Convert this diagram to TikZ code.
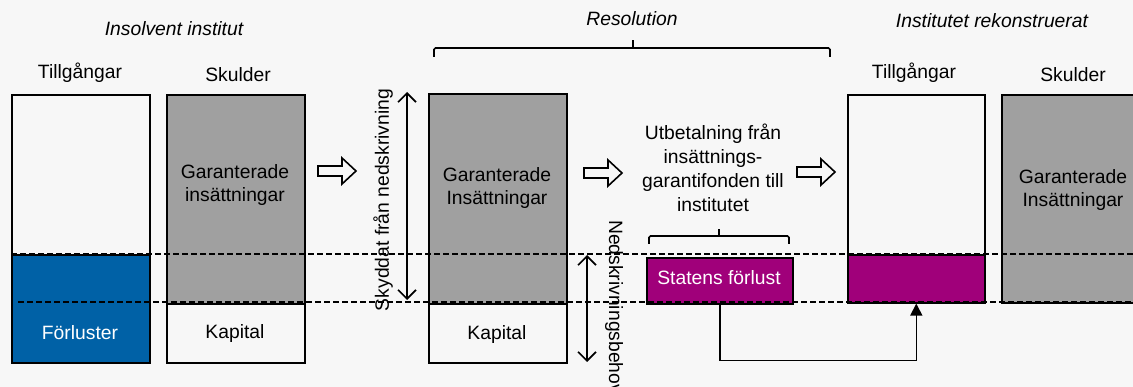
\documentclass[tikz,border=0pt]{standalone}
\usepackage{fontspec}
\setmainfont{Liberation Sans}
\usetikzlibrary{arrows.meta}
\definecolor{bg}{HTML}{F7F7F7}
\definecolor{depgray}{HTML}{A0A0A0}
\definecolor{lossblue}{HTML}{0061A6}
\definecolor{statepurple}{HTML}{A0007A}
\begin{document}
\begin{tikzpicture}[x=1pt,y=-1pt,
  every node/.style={font=\fontsize{19.3}{23.8}\selectfont, inner sep=0pt, align=center},
  block/.style={draw, line width=1.6pt, anchor=north west, minimum width=138pt},
  title/.style={font=\fontsize{19.3}{23.8}\selectfont\itshape, anchor=base},
  dashline/.style={dashed, dash pattern=on 6pt off 3pt, line width=1.5pt},
  bracket/.style={line width=1.6pt, rounded corners=1.5pt},
  dblarrow/.style={line width=1.6pt, {Straight Barb[length=9pt,width=18pt,line width=1.6pt]}-{Straight Barb[length=9pt,width=18pt,line width=1.6pt]}},
  hollowarrow/.pic={\draw[line width=1.6pt, fill=bg, line join=miter]
      (0,-5) -- (24,-5) -- (24,-13) -- (38,0) -- (24,13) -- (24,5) -- (0,5) -- cycle;}
]
% canvas
\fill[bg] (0,0) rectangle (1133,387);
\useasboundingbox (0,0) rectangle (1133,387);

% titles
\node[title] (tInsolv) at (174,36) {Insolvent institut};
\node[title] (tResol) at (632,26) {Resolution};
\node[title] (tRekon) at (992,28) {Institutet rekonstruerat};

% column headings
\node[anchor=base] (hA1) at (80,79) {Tillgångar};
\node[anchor=base] (hL1) at (238,82) {Skulder};
\node[anchor=base] (hA2) at (914,79) {Tillgångar};
\node[anchor=base] (hL2) at (1073,82) {Skulder};

% insolvent institution: assets
\node[block, minimum height=160pt, fill=bg] (a1top) at (11,94) {};
\node[block, minimum height=108pt, fill=lossblue] (a1loss) at (11,254) {};
% insolvent institution: liabilities
\node[block, minimum height=209pt, fill=depgray] (l1dep) at (166,94) {};
\node[block, minimum height=59pt, fill=bg] (l1cap) at (166,303) {};

% resolution: liabilities
\node[block, minimum height=210pt, fill=depgray] (l2dep) at (428,93) {};
\node[block, minimum height=59pt, fill=bg] (l2cap) at (428,303) {};

% state loss
\node[block, minimum width=146pt, minimum height=46pt, fill=statepurple] (statens) at (646,257) {};

% reconstructed institution
\node[block, minimum width=137pt, minimum height=160pt, fill=bg] (a3top) at (847,94) {};
\node[block, minimum width=137pt, minimum height=48pt, fill=statepurple] (a3loss) at (847,254) {};
\node[block, minimum height=208pt, fill=depgray] (l3dep) at (1001,94) {};

% texts inside the blocks
\node (tx1) at (235,185) {Garanterade\\insättningar};
\node[text=white] (tx2) at (80,333) {Förluster};
\node (tx3) at (235,334) {Kapital};
\node (tx4) at (497,188) {Garanterade\\Insättningar};
\node (tx5) at (497,335) {Kapital};
\node[text=white] (tx6) at (719,278) {Statens förlust};
\node (tx7) at (1073,190) {Garanterade\\Insättningar};
\node (tx8) at (713,168) {Utbetalning från\\insättnings-\\garantifonden till\\institutet};

% level lines
\draw[dashline] (11,254) -- (1133,254);
\draw[dashline] (18,302) -- (1133,302);

% brackets
\draw[bracket] (434,57) -- (434,48) -- (830,48) -- (830,57);
\draw[line width=1.6pt] (633,48) -- (633,40);
\draw[bracket] (649,244) -- (649,236) -- (789,236) -- (789,244);
\draw[line width=1.6pt] (719,236) -- (719,229);

% block arrows between stages
\pic at (318,171) {hollowarrow};
\pic at (584,173) {hollowarrow};
\pic at (797,172) {hollowarrow};

% measured spans
\coordinate (sTop) at (407,92);
\coordinate (sBot) at (407,300);
\coordinate (nTop) at (587,255);
\coordinate (nBot) at (587,362);
\draw[dblarrow] (sTop) -- (sBot);
\draw[dblarrow] (nTop) -- (nBot);
\node[rotate=90] (skydd) at (383,200) {Skyddat från nedskrivning};
\node[rotate=-90, anchor=west] (nedsk) at (614,220) {Nedskrivningsbehov};

% transfer of the state's loss
\draw[line width=1.6pt, -{Triangle[length=12pt,width=12pt]}] (statens.south) -- ++(0,56) -| (a3loss.south);
\end{tikzpicture}
\end{document}
